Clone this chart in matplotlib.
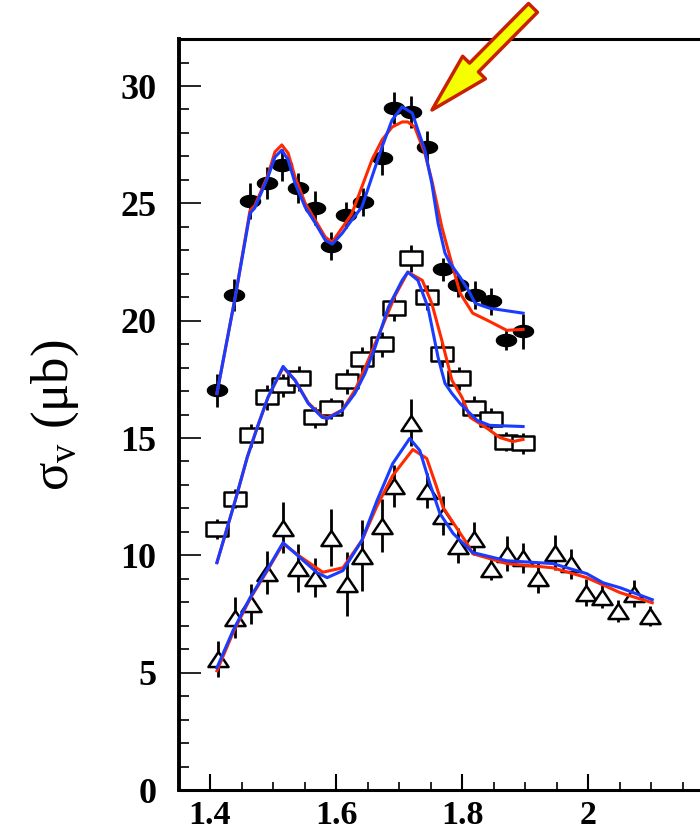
import matplotlib

matplotlib.use("Agg")
import matplotlib.pyplot as plt
import numpy as np
from matplotlib.path import Path

plt.rcParams["font.family"] = ["Liberation Serif", "DejaVu Serif"]
plt.rcParams["mathtext.fontset"] = "custom"
plt.rcParams["mathtext.rm"] = "Liberation Serif"

# data points (x in GeV, sigma in microbarn)
top_x = [1.411, 1.438, 1.463, 1.49, 1.514, 1.54, 1.567, 1.592, 1.616, 1.643,
         1.673, 1.692, 1.719, 1.744, 1.77, 1.794, 1.821, 1.846, 1.87, 1.897]
top_y = [17.03, 21.08, 25.1, 25.86, 26.63, 25.65, 24.8, 23.17, 24.5, 25.05,
         26.93, 29.06, 28.9, 27.4, 22.19, 21.5, 21.08, 20.83, 19.16, 19.55]
top_err = [0.7, 0.68, 0.75, 0.68, 0.68, 0.64, 0.71, 0.6, 0.57, 0.6,
           0.71, 0.68, 0.68, 0.68, 0.5, 0.5, 0.6, 0.57, 0.43, 0.75]

mid_x = [1.411, 1.44, 1.465, 1.49, 1.516, 1.541, 1.567, 1.592, 1.617, 1.641,
         1.673, 1.692, 1.719, 1.744, 1.768, 1.795, 1.819, 1.846, 1.87, 1.897]
mid_y = [11.14, 12.42, 15.11, 16.73, 17.24, 17.54, 15.88, 16.26, 17.41, 18.35,
         18.99, 20.53, 22.66, 21.0, 18.57, 17.54, 16.3, 15.83, 14.85, 14.77]
mid_err = [0.43, 0.4, 0.5, 0.53, 0.5, 0.53, 0.46, 0.46, 0.53, 0.53,
           0.53, 0.53, 0.57, 0.53, 0.53, 0.5, 0.5, 0.43, 0.4, 0.43]

bot_x = [1.413, 1.44, 1.465, 1.49, 1.516, 1.54, 1.567, 1.592, 1.617, 1.641,
         1.673, 1.692, 1.719, 1.744, 1.77, 1.794, 1.819, 1.846, 1.871, 1.897,
         1.921, 1.948, 1.973, 1.997, 2.022, 2.048, 2.073, 2.098]
bot_y = [5.59, 7.34, 7.94, 9.26, 11.18, 9.47, 9.05, 10.76, 8.79, 9.99,
         11.27, 12.97, 15.66, 12.76, 11.69, 10.41, 10.71, 9.43, 10.07, 9.9,
         9.05, 10.12, 9.65, 8.41, 8.24, 7.64, 8.37, 7.43]
bot_err = [0.78, 0.87, 0.85, 0.92, 1.1, 1.03, 0.82, 1.2, 1.37, 1.5,
           1.14, 0.89, 1.0, 0.75, 0.82, 0.75, 0.71, 0.5, 0.75, 0.64,
           0.64, 0.75, 0.64, 0.57, 0.5, 0.46, 0.57, 0.43]

# model curves
top_blue_x = [1.411, 1.440, 1.4635, 1.471, 1.492, 1.503, 1.514, 1.524, 1.535, 1.551,
              1.567, 1.583, 1.594, 1.610, 1.625, 1.641, 1.657, 1.673, 1.689, 1.705,
              1.721, 1.730, 1.741, 1.752, 1.762, 1.773, 1.781, 1.797, 1.810, 1.821,
              1.844, 1.897]
top_blue_y = [16.90, 21.0, 24.58, 24.80, 26.12, 26.97, 27.27, 26.85, 25.86, 24.84,
              24.16, 23.43, 23.26, 23.73, 24.29, 24.84, 26.12, 27.40, 28.55, 29.11,
              28.85, 28.13, 27.27, 25.86, 24.16, 22.88, 22.45, 21.85, 21.30, 20.74,
              20.53, 20.32]
top_red_x = [1.411, 1.440, 1.4635, 1.471, 1.492, 1.503, 1.514, 1.524, 1.535, 1.551,
             1.583, 1.594, 1.625, 1.657, 1.673, 1.689, 1.705, 1.714, 1.725, 1.741,
             1.752, 1.768, 1.778, 1.797, 1.817, 1.840, 1.871, 1.897]
top_red_y = [16.9, 21.0, 24.7, 24.9, 26.2, 27.19, 27.49, 27.14, 26.12, 25.01,
             23.56, 23.35, 24.55, 26.85, 27.70, 28.25, 28.47, 28.47, 28.25, 27.14,
             25.99, 23.99, 23.0, 21.17, 20.32, 20.02, 19.59, 19.63]

mid_blue_x = [1.411, 1.440, 1.459, 1.475, 1.492, 1.516, 1.535, 1.556, 1.578, 1.587,
              1.610, 1.630, 1.646, 1.662, 1.683, 1.705, 1.714, 1.730, 1.746, 1.762,
              1.773, 1.784, 1.797, 1.824, 1.844, 1.897]
mid_blue_y = [9.69, 12.33, 14.17, 15.45, 16.73, 18.05, 17.46, 16.47, 15.88, 15.83,
              16.18, 16.90, 17.75, 18.86, 20.57, 21.72, 22.07, 21.72, 20.57, 18.44,
              17.33, 16.90, 16.47, 15.75, 15.54, 15.49]
mid_red_x = [1.411, 1.440, 1.459, 1.475, 1.492, 1.516, 1.535, 1.556, 1.578, 1.587,
             1.610, 1.630, 1.651, 1.673, 1.694, 1.714, 1.737, 1.752, 1.768, 1.784,
             1.800, 1.813, 1.840, 1.860, 1.881, 1.897]
mid_red_y = [9.69, 12.33, 14.17, 15.45, 16.73, 18.0, 17.46, 16.5, 15.92, 15.87,
             16.2, 17.03, 18.31, 19.72, 21.08, 22.07, 21.72, 20.74, 19.16, 17.46,
             16.73, 15.88, 15.41, 15.02, 14.85, 14.94]

bot_blue_x = [1.411, 1.4365, 1.4635, 1.490, 1.516, 1.543, 1.570, 1.586, 1.611, 1.641,
              1.665, 1.690, 1.717, 1.733, 1.749, 1.765, 1.786, 1.817, 1.871, 1.944,
              1.998, 2.024, 2.051, 2.102]
bot_blue_y = [5.21, 6.79, 8.19, 9.35, 10.54, 9.9, 9.26, 9.05, 9.35, 10.63,
              12.33, 13.91, 14.98, 14.47, 13.06, 11.78, 10.93, 10.12, 9.77, 9.65,
              9.22, 8.83, 8.62, 8.11]
bot_red_x = [1.411, 1.4365, 1.4635, 1.490, 1.516, 1.543, 1.579, 1.611, 1.641, 1.665,
             1.690, 1.722, 1.744, 1.760, 1.770, 1.808, 1.817, 1.871, 1.944, 1.998,
             2.051, 2.102]
bot_red_y = [5.08, 6.7, 8.15, 9.3, 10.5, 9.95, 9.28, 9.47, 10.63, 12.1,
             13.4, 14.51, 14.13, 12.89, 12.04, 10.5, 10.07, 9.65, 9.47, 9.05,
             8.41, 7.98]

x_ticks = [1.4, 1.6, 1.8, 2.0]
x_labels = ["1.4", "1.6", "1.8", "2"]
y_ticks = [0, 5, 10, 15, 20, 25, 30]

# stretched marker shapes (the original figure is wider than tall)
t = np.linspace(0, 2 * np.pi, 41)
ellipse = Path(np.column_stack([np.cos(t), 0.6 * np.sin(t)]))
rect = Path([(-1, -0.6), (1, -0.6), (1, 0.6), (-1, 0.6), (-1, -0.6)],
            [Path.MOVETO, Path.LINETO, Path.LINETO, Path.LINETO, Path.CLOSEPOLY])
tri = Path([(-1, -0.75), (1, -0.75), (0, 0.75), (-1, -0.75)],
           [Path.MOVETO, Path.LINETO, Path.LINETO, Path.CLOSEPOLY])

RED = "#ff2a00"
BLUE = "#1a3cff"

fig = plt.figure(figsize=(7.0, 8.39), dpi=100)
ax = fig.add_axes([0.255, 0.0584, 0.855, 0.895])

for xs, ys, es, mk, ms, fc, ew in [
    (top_x, top_y, top_err, ellipse, 14.5, "black", 1.0),
    (mid_x, mid_y, mid_err, rect, 16, "white", 1.8),
    (bot_x, bot_y, bot_err, tri, 14.5, "white", 1.8),
]:
    ax.errorbar(xs, ys, yerr=es, fmt="none", ecolor="black", elinewidth=2.0,
                capsize=0, zorder=2)
    ax.plot(xs, ys, ls="none", marker=mk, ms=ms, mfc=fc, mec="black", mew=ew,
            zorder=3)

for xs, ys in [(top_red_x, top_red_y), (mid_red_x, mid_red_y), (bot_red_x, bot_red_y)]:
    ax.plot(xs, ys, color=RED, lw=2.2, zorder=4, solid_joinstyle="round")
for xs, ys in [(top_blue_x, top_blue_y), (mid_blue_x, mid_blue_y), (bot_blue_x, bot_blue_y)]:
    ax.plot(xs, ys, color=BLUE, lw=2.2, zorder=5, solid_joinstyle="round")

ax.set_xlim(1.35, 2.3)
ax.set_ylim(0, 32.0)
ax.set_xticks(x_ticks, x_labels)
ax.set_xticks(np.arange(1.35, 2.3, 0.05), minor=True)
ax.set_yticks(y_ticks)
ax.set_yticks(np.arange(0, 32.5, 1), minor=True)
ax.tick_params(axis="y", which="major", direction="in", length=16, width=1.2, pad=16)
ax.tick_params(axis="y", which="minor", direction="in", length=7, width=1.2)
ax.tick_params(axis="x", which="major", direction="in", length=11.5, width=1.5, pad=7)
ax.tick_params(axis="x", which="minor", direction="in", length=5.8, width=1.2)
for lab in ax.get_yticklabels():
    lab.set_fontsize(26)
    lab.set_fontweight("bold")
for lab in ax.get_xticklabels():
    lab.set_fontsize(24.5)
    lab.set_fontweight("bold")
ax.spines["left"].set_linewidth(2.8)
ax.spines["bottom"].set_linewidth(2.2)
ax.spines["top"].set_linewidth(2.2)

fig.text(0.079, 0.505, "σ$_\\mathrm{v}$ (μb)", rotation=90, ha="center",
         va="center", fontsize=38)

ax.annotate("", xy=(1.7524, 28.98), xytext=(1.9127, 33.33),
            xycoords="data", annotation_clip=False,
            arrowprops=dict(arrowstyle="simple,head_length=4.3,head_width=2.3,tail_width=0.9",
                            mutation_scale=10, fc="#f5ff00", ec="#c82000", lw=2.5,
                            shrinkA=0, shrinkB=0))

fig.savefig("out.png", dpi=100)
